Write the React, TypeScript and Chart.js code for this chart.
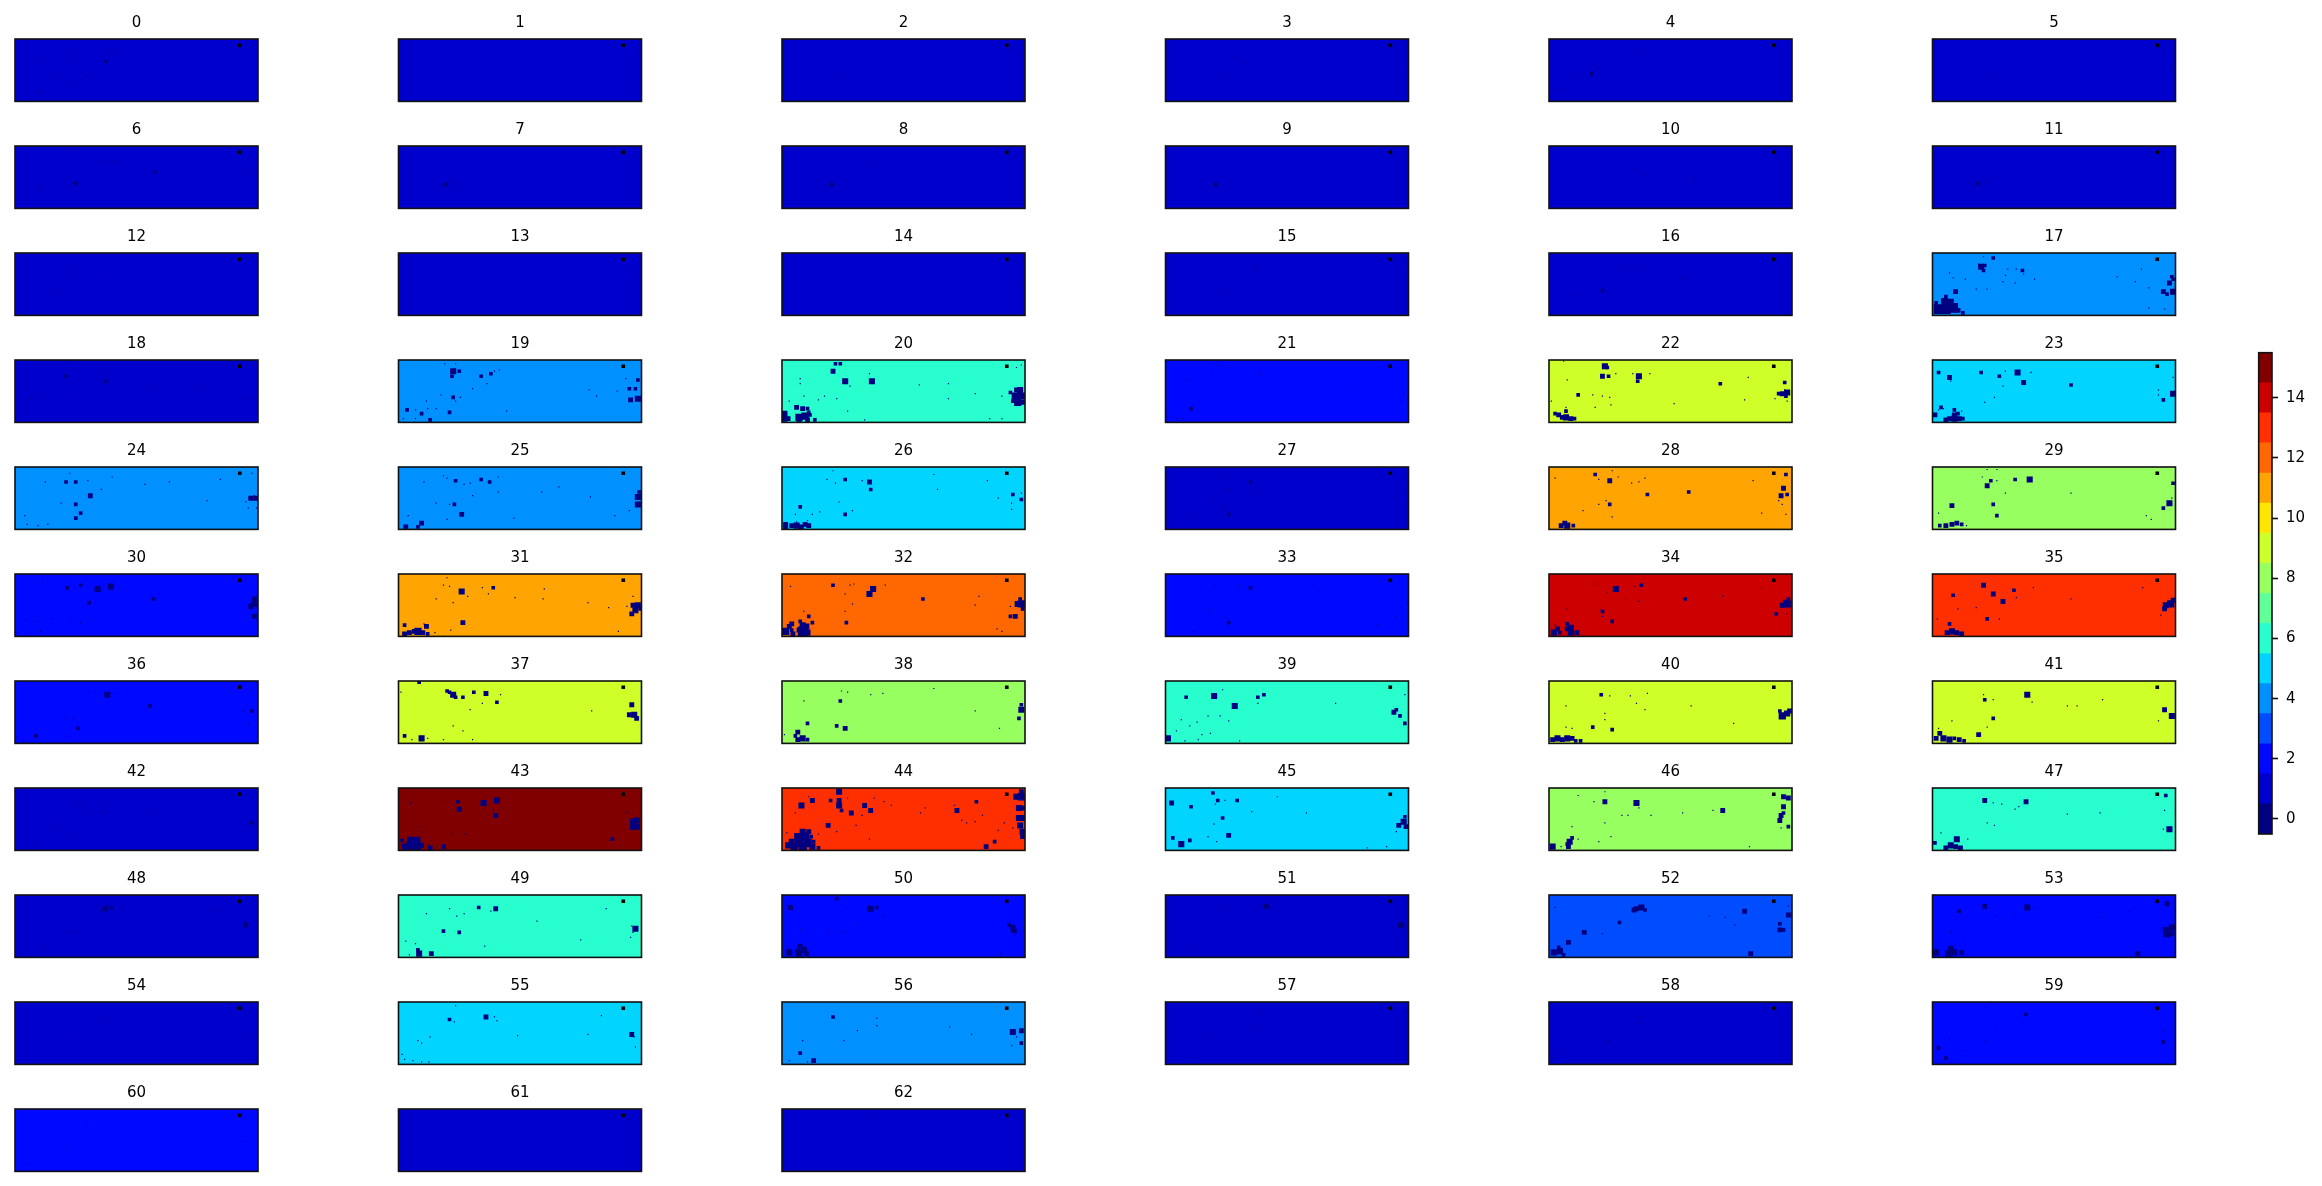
import React, { useEffect, useRef } from "react";
import { Chart, registerables } from "chart.js";

Chart.register(...registerables);

const FONT = "'DejaVu Sans'";
const levelColors = ["#000080","#0000cd","#0008ff","#004cff","#0090ff","#00d4ff","#29ffce","#60ff97","#97ff60","#ceff29","#ffe600","#ffa400","#ff6800","#ff2f00","#cd0000","#800000"];
const colorbarTicks = [0,2,4,6,8,10,12,14];
const panelLevels = [1,1,1,1,1,1,1,1,1,1,1,1,1,1,1,1,1,4,1,4,6,2,9,5,4,4,5,1,11,8,2,11,12,2,14,13,2,9,8,6,9,9,1,15,13,5,8,6,1,6,2,1,3,2,1,5,4,1,1,2,2,1,1];
const marker = [[185,5,2]];
const hot23 = [[18,48],[20,48],[22,48]];

type P = number[];
const holes0: P[] = [[24,16],[44,12],[49,18],[75,12],[80,11],[75,18,2],[33,31],[43,33],[59,29],[21,43],[40,39],[160,30],[104,36],[12,37],[3,46],[86,11]];
const holes1: P[] = [[190,6],[197,12],[60,20]];
const holes2: P[] = [[39,28],[45,29],[197,30],[190,8]];
const holes3: P[] = [[44,28],[58,14],[192,24]];
const holes4: P[] = [[35,28,2],[41,24],[27,30],[78,13],[53,14],[11,40],[190,8]];
const holes5: P[] = [[197,22],[45,30],[190,8]];
const holes6: P[] = [[50,30,2],[47,30],[115,21,2],[80,12],[69,12],[21,35],[45,5],[35,32],[160,13],[186,21]];
const holes7: P[] = [[39,31,2],[75,12],[44,29],[190,8]];
const holes8: P[] = [[41,31,2],[75,16],[35,32],[190,8]];
const holes9: P[] = [[41,31,2],[44,29],[190,8]];
const holes10: P[] = [[70,18],[190,10],[120,26]];
const holes11: P[] = [[37,30,2],[43,29],[190,8]];
const holes12: P[] = [[42,17],[73,17],[36,31],[30,20],[50,13],[190,8]];
const holes13: P[] = [[190,6],[194,20]];
const holes14: P[] = [[39,30],[44,29],[190,8],[196,24]];
const holes15: P[] = [[75,13],[196,12],[45,30]];
const holes16: P[] = [[40,10],[55,13],[70,12],[20,34],[44,30,2],[110,21],[170,26],[188,8]];
const holes17: P[] = [[5,45,7],[11,45,7],[17,44,7],[21,46,3],[10,39,5],[15,39,4],[11,35,2],[3,40,2],[25,48,2],[40,11,4],[43,10,2],[38,9],[42,14,2],[50,4,2],[42,3],[69,13],[74,14,2],[60,18],[58,23],[68,24],[45,29],[36,29],[19,31,3],[195,24,3],[198,21,2],[190,31,3],[193,33,2],[198,31,4],[197,19,2],[178,28],[178,44],[191,45],[17,20],[14,16],[27,21],[152,19],[167,23],[172,13],[75,17],[62,13],[84,21]];
const holes18: P[] = [[42,13,2],[68,11],[75,17,2],[79,11],[112,21],[50,31],[157,25],[23,29],[44,3],[71,15],[194,31],[13,31]];
const holes19: P[] = [[45,9,4],[44,13,2],[50,9,2],[38,3],[47,3],[68,13,2],[76,11,2],[79,9],[83,8],[73,19],[61,23],[35,28],[45,30,2],[51,30],[47,33],[23,33],[7,40,2],[19,43,2],[14,40],[24,39],[31,39],[42,42,2],[14,47],[26,48,2],[4,47],[89,41],[157,24],[163,29],[180,25],[190,23,2],[195,23,2],[197,16,2],[191,32,3],[197,31,4],[187,15]];
const holes20: P[] = [[2,43,4],[2,47,4],[5,47,3],[14,46,5],[19,45,5],[23,44,2],[14,48,3],[21,48,3],[27,48,2],[12,38,3],[17,39,3],[21,39,2],[22,42,2],[193,24,3],[196,24,4],[192,29,5],[197,29,5],[194,34,5],[198,34,3],[190,33,2],[188,26,2],[52,17,4],[74,17,4],[42,9,3],[44,3,2],[48,3,2],[56,21],[15,15],[15,19],[72,11],[113,20],[159,27],[6,33],[35,29],[45,31],[30,32],[18,29],[54,41],[137,31],[137,19],[181,29],[181,47],[193,6],[197,4],[171,47],[68,48]];
const holes21: P[] = [[21,39,2],[38,11],[51,8],[78,11],[18,16],[194,33],[196,27],[155,24],[9,47],[14,47],[42,4],[2,45]];
const holes22: P[] = [[14,46,4],[18,47,3],[11,46,3],[14,41,2],[14,38],[8,44,3],[5,43,2],[21,47,2],[192,27,3],[196,26,4],[195,29,2],[189,27,2],[194,24],[46,5,4],[44,4],[48,6,2],[44,13,3],[49,13,2],[74,13,4],[73,17,2],[69,11],[83,11],[55,11],[194,18,2],[196,33],[186,31],[24,28,2],[36,28],[50,30],[44,29],[51,36],[38,38],[164,14],[141,19,2],[161,32],[103,35],[12,1],[2,33],[15,16]];
const holes23: P[] = [[18,44,3],[14,47,3],[18,47,4],[22,47,3],[25,47,2],[11,48,3],[18,40,2],[21,43,2],[24,41],[7,38,2],[5,40],[9,39],[2,44,3],[70,10,4],[75,18,3],[40,10,2],[55,13,2],[14,14,3],[15,17],[5,10,2],[114,20,2],[81,10],[60,9],[198,27,4],[190,32,2],[51,30],[43,34],[186,24],[186,28],[198,14],[58,21]];
const holes24: P[] = [[45,5],[42,12,2],[50,12,2],[60,11],[62,23,3],[50,30,2],[38,29],[54,37,2],[50,41,2],[25,12],[80,8],[71,18],[127,12],[107,14],[169,10],[158,27],[194,25,3],[198,25,3],[197,23],[190,28],[192,33],[199,33],[195,5],[8,39],[19,47],[27,46],[10,46]];
const holes25: P[] = [[47,11,2],[40,9],[37,7],[59,13],[68,10,2],[75,12,2],[54,14],[82,8],[82,20],[61,23],[42,30],[46,30,2],[31,29],[52,38,3],[6,48,3],[19,45,3],[16,48,2],[8,39],[40,42],[95,41],[118,20],[132,16],[158,24],[197,24,4],[197,30,4],[198,20,2],[190,35],[178,39],[21,12]];
const holes26: P[] = [[3,46,3],[3,48,3],[8,47,3],[12,47,4],[16,48,3],[19,46,3],[22,47,3],[21,43],[12,44],[72,12,3],[66,11],[44,13],[52,10,2],[37,10],[42,3],[73,18,2],[52,38,2],[58,35],[47,28],[15,32,2],[11,38],[190,22,2],[197,26,2],[189,29],[197,21],[189,34],[178,25],[128,18],[169,11],[125,6],[25,38],[31,36]];
const holes27: P[] = [[70,12,2],[44,5],[52,18],[52,38,2],[21,42],[38,28],[47,32],[196,14],[189,25],[194,29],[8,46],[75,17]];
const holes28: P[] = [[13,45,3],[10,47,3],[15,47,4],[20,47,2],[50,11,3],[38,6,2],[41,10],[57,8],[52,3],[68,13],[74,12],[79,9],[81,22,2],[115,20,2],[50,30,2],[41,30],[47,27],[52,40],[193,17,3],[191,23,3],[196,22,2],[192,30],[189,27],[195,38],[195,6,2],[5,9],[168,11],[175,37],[28,35]];
const holes29: P[] = [[6,47,2],[11,47,3],[16,46,3],[20,45,3],[24,46,2],[80,10,4],[68,10,2],[45,15,3],[48,11,2],[53,11],[41,8],[50,30,2],[16,31,3],[53,39,2],[28,47],[195,29,4],[190,33,2],[197,25],[198,13,2],[176,39],[180,42],[114,21],[60,21],[5,37],[45,2],[53,2]];
const holes30: P[] = [[43,11,2],[54,9,2],[68,12,4],[79,10,4],[61,23,2],[197,20,3],[197,24,4],[194,25,2],[194,26,3],[197,34,3],[9,37],[16,38],[30,36],[40,42],[21,46],[54,39],[114,20,2],[45,35],[2,47],[23,7],[40,6]];
const holes31: P[] = [[9,47,3],[13,46,3],[16,46,5],[20,47,3],[24,48,2],[23,42,3],[21,40],[5,48,3],[193,25,3],[197,25,4],[195,29,4],[199,28,2],[52,14,4],[57,18],[42,10],[37,9],[40,3],[69,11],[78,11,2],[74,16],[120,12],[119,20],[156,23],[192,32,3],[193,18],[188,26],[173,27],[5,41,2],[53,39,3],[43,45],[181,46],[30,47],[96,19],[45,23],[31,20]];
const holes32: P[] = [[3,46,5],[8,45,2],[9,48,3],[8,40,3],[6,42,3],[17,41,4],[14,45,3],[20,42,4],[17,46,7],[21,47,4],[15,38,2],[194,24,4],[197,24,5],[196,20,2],[198,28,2],[75,12,4],[72,16,4],[42,9,2],[56,9],[59,8],[52,16],[58,24],[116,20,2],[188,26],[192,34,3],[188,34,2],[159,25],[162,18],[22,34,2],[18,30],[25,39,2],[53,39,2],[52,30],[85,9],[7,10],[181,46],[177,44]];
const holes33: P[] = [[52,39,2],[41,10],[60,10],[70,11,2],[37,29],[23,46],[175,41],[194,27],[190,34],[49,35],[127,14]];
const holes34: P[] = [[4,47,4],[7,44,3],[9,47,2],[5,41],[15,44,3],[18,43,4],[18,47,4],[23,47,3],[15,40,2],[194,22,2],[196,24,5],[192,25,3],[197,20,2],[55,12,4],[44,30,2],[44,34],[52,38,2],[187,32,2],[196,32],[112,20,2],[76,9,2],[71,10],[48,15],[74,22],[63,20],[175,11],[143,18],[38,8],[15,28]];
const holes35: P[] = [[12,47,3],[16,46,4],[20,47,3],[24,48,3],[192,25,4],[196,24,5],[191,28,3],[198,21,3],[42,9,3],[50,16,3],[58,22,3],[67,13,2],[69,19],[83,11],[17,17,2],[114,20],[14,40,2],[45,36,2],[21,28],[4,36],[55,36],[36,27],[188,33],[173,11]];
const holes36: P[] = [[76,11,4],[81,10],[61,9],[111,20,2],[52,38,2],[42,30],[48,30],[195,24,2],[188,24],[192,35],[17,44,2],[2,45],[7,48],[9,38],[43,44],[195,12]];
const holes37: P[] = [[45,11,4],[42,9,2],[47,13,2],[40,8,2],[53,13,2],[62,9,2],[72,10,3],[84,11],[81,17,2],[69,18],[59,23],[190,27,3],[194,27,4],[196,30,3],[192,19,3],[45,36],[53,40],[19,46,4],[5,44,2],[11,47],[17,1,2],[2,9],[37,47],[24,46],[61,47],[159,24]];
const holes38: P[] = [[13,41,3],[11,44,2],[13,47,3],[17,46,4],[21,47,2],[52,38,3],[45,36,2],[21,34,2],[197,23,4],[197,19,2],[195,30,2],[48,16,2],[49,8],[54,9],[73,11],[18,16],[2,43],[179,38],[159,24],[125,6],[83,10]];
const holes39: P[] = [[40,12,4],[57,20,4],[76,13,2],[81,11,2],[76,18],[17,13,2],[2,46,4],[9,40],[16,48],[27,47],[188,25,3],[190,23,2],[193,28,2],[197,34,2],[13,31],[35,28],[47,7],[140,18],[37,42],[61,48],[197,11],[20,36],[26,33],[45,28],[52,32],[30,43]];
const holes40: P[] = [[3,47,3],[7,46,4],[11,47,3],[15,46,4],[19,46,3],[22,48,2],[26,48,2],[192,28,5],[196,26,4],[190,24,2],[198,24,3],[52,39,2],[36,37,2],[19,38],[14,37],[43,11,2],[50,12],[67,12],[81,10],[79,23],[72,18],[46,26],[46,31],[14,20],[117,20],[152,34]];
const holes41: P[] = [[3,46,3],[6,42,3],[5,38],[9,46,4],[14,47,4],[18,46,2],[22,47,3],[26,48,2],[38,43,3],[45,37],[78,11,4],[42,11],[43,15,2],[50,15],[50,30,2],[197,28,4],[191,23,3],[186,32],[82,17],[111,20],[119,20],[16,32],[140,15]];
const holes42: P[] = [[195,28,2],[45,4],[46,39],[72,19],[74,11],[36,29],[30,40],[16,46],[112,21],[52,12],[57,16]];
const holes43: P[] = [[10,42,5],[15,42,5],[10,46,6],[15,46,6],[5,47,4],[3,42,2],[19,46,3],[26,48,3],[24,45],[37,47,3],[32,47],[193,27,4],[196,26,4],[193,31,4],[196,31,4],[70,12,4],[81,10,4],[49,11,2],[50,17,3],[80,22,3],[78,18],[188,20],[45,36],[37,10],[10,12],[54,37],[176,41,2],[16,31]];
const holes44: P[] = [[17,35,4],[22,35,3],[13,39,5],[19,39,6],[24,39,2],[8,43,4],[14,44,6],[21,44,6],[5,46,4],[10,47,5],[17,47,6],[25,47,4],[30,48,2],[26,43,2],[4,36],[197,3,3],[193,7,4],[197,7,5],[195,16,4],[198,16,3],[195,24,4],[198,24,4],[196,30,4],[198,35,4],[198,39,3],[47,10,3],[47,14,4],[49,18,2],[47,3,4],[16,14,4],[25,10,3],[57,20,3],[68,14,3],[73,18,3],[38,30,3],[45,35],[144,18,3],[142,14],[160,11,2],[178,34],[190,32],[168,47,3],[175,43,2],[159,27],[76,8],[84,11],[40,10,2],[72,41],[11,20],[114,20],[152,28],[183,28],[61,30],[30,37],[22,7],[54,8],[66,22],[90,14],[118,16],[148,26],[165,22]];
const holes45: P[] = [[52,38,3],[21,15,2],[5,12,3],[39,4,2],[43,10,2],[41,13],[49,10],[59,10,2],[47,24,2],[40,29],[13,45,4],[20,42,2],[6,40,2],[35,39],[42,43],[192,30,3],[196,27,4],[198,31,3],[197,23,2],[71,19],[116,20],[190,35],[92,7],[166,48],[182,47]];
const holes46: P[] = [[17,43,4],[16,47,3],[19,40,2],[15,45,2],[3,47,4],[72,12,4],[46,11,3],[193,15,3],[191,22,3],[193,20,2],[190,26,3],[193,7,3],[197,8,3],[197,31,2],[143,18,3],[135,18],[60,22],[65,22],[110,20],[24,41],[24,6],[74,16],[191,32],[165,47],[46,3],[51,39],[41,43],[46,28],[19,31],[10,47],[37,11],[84,22]];
const holes47: P[] = [[11,48,3],[15,46,4],[19,47,3],[23,48,3],[20,41,4],[2,44,2],[43,10,3],[57,13],[77,11,3],[71,15],[195,33,4],[190,33],[191,18],[51,30],[45,28],[192,6,2],[111,21],[138,20],[7,36],[29,41],[68,17],[50,12]];
const holes48: P[] = [[74,11,3],[79,10,2],[71,13],[190,24,3],[49,30],[40,9],[147,16],[164,13],[23,45],[4,47]];
const holes49: P[] = [[16,44,2],[17,47,4],[27,47,3],[9,48],[195,27,4],[192,25],[193,30],[37,29,2],[50,30,2],[66,10,2],[80,11,3],[42,11],[48,17],[54,15],[76,13],[23,15],[14,39],[6,37],[150,36],[71,41],[171,11],[191,34],[114,21]];
const holes50: P[] = [[15,41,3],[13,45,3],[18,44,4],[14,47,4],[20,47,3],[6,46,4],[73,11,4],[78,10,2],[45,3,2],[7,10,3],[190,26,3],[187,24,2],[192,29,2],[190,29,2],[83,17],[50,30],[38,29],[15,28],[61,23],[54,11],[180,47],[24,39],[192,32]];
const holes51: P[] = [[83,9,3],[78,8],[194,24,4],[195,29],[21,45],[183,5],[56,9],[44,12],[94,15]];
const holes52: P[] = [[72,11,3],[76,10,4],[79,12,2],[70,12,3],[4,46,4],[9,45,4],[8,42,2],[12,48,2],[29,30,3],[16,38,3],[190,28,3],[193,28,2],[190,23,2],[197,16,3],[161,13,3],[166,47,3],[58,22,2],[145,18],[132,17],[44,31],[5,10],[153,24],[197,9]];
const holes53: P[] = [[78,10,4],[192,28,4],[197,26,4],[193,31,5],[197,31,3],[15,43,4],[13,47,4],[18,46,4],[3,46,4],[24,46,3],[169,47,3],[43,9,3],[22,13,2],[193,7,3],[67,14],[52,17],[162,13],[86,10],[15,30],[7,38],[26,33],[140,18]];
const holes54: P[] = [[70,12],[45,30],[190,8],[196,26]];
const holes55: P[] = [[42,14,2],[46,16],[72,12,3],[79,12],[81,15],[47,3],[192,26,3],[194,28],[195,36],[16,31],[19,33],[26,28],[5,46],[12,47],[19,48],[25,48],[3,42],[167,11],[156,26],[98,27]];
const holes56: P[] = [[190,24,4],[197,23,3],[197,33,2],[189,35],[26,47,3],[15,41,2],[6,47],[21,48],[42,12,2],[62,23],[78,13],[78,19],[138,20],[17,31],[51,31],[156,26],[193,28]];
const holes57: P[] = [[73,18],[78,10],[40,29],[26,45],[10,39],[191,24]];
const holes58: P[] = [[74,17],[73,12],[48,9],[49,31],[193,24],[193,33],[15,41],[3,45]];
const holes59: P[] = [[77,10,2],[75,17],[52,20],[44,31],[190,32,2],[191,23],[5,37,2],[25,39],[11,45,2],[16,48],[14,30],[44,4]];
const holes60: P[] = [[60,14],[42,30],[190,26],[12,44]];
const holes61: P[] = [[190,8],[50,30]];
const holes62: P[] = [[70,6],[44,30],[194,20]];

const allHoles = [holes0,holes1,holes2,holes3,holes4,holes5,holes6,holes7,holes8,holes9,holes10,holes11,holes12,holes13,holes14,holes15,holes16,holes17,holes18,holes19,holes20,holes21,holes22,holes23,holes24,holes25,holes26,holes27,holes28,holes29,holes30,holes31,holes32,holes33,holes34,holes35,holes36,holes37,holes38,holes39,holes40,holes41,holes42,holes43,holes44,holes45,holes46,holes47,holes48,holes49,holes50,holes51,holes52,holes53,holes54,holes55,holes56,holes57,holes58,holes59,holes60,holes61,holes62];

const toPoints = (rows: P[]) => rows.map((r) => ({ x: r[0], y: r[1], s: r[2] ?? 1 }));
// Blobs are read as squares of several cells; they are drawn one cell wider so that neighbouring squares merge.
const cellRadius = (ctx: any) => {
  const s = ctx.raw.s > 1 ? ctx.raw.s + 1 : ctx.raw.s;
  return (s * ctx.chart.scales.x.width) / 200 / Math.SQRT2;
};

const framePlugin = {
  id: "frame",
  afterDraw(chart: any) {
    const { ctx, chartArea: a } = chart;
    ctx.save();
    ctx.strokeStyle = "#111";
    ctx.lineWidth = 1.6;
    ctx.strokeRect(a.left, a.top, a.width, a.height);
    ctx.restore();
  },
};
const fillPlugin = {
  id: "fill",
  beforeDatasetsDraw(chart: any, _a: any, opts: any) {
    const { ctx, chartArea: a } = chart;
    ctx.fillStyle = opts.color;
    ctx.fillRect(a.left, a.top, a.width, a.height);
  },
};

const X0 = 15, Y0 = 39, DX = 383.5, DY = 107, W = 243, H = 62.4;
const TITLE_BOX = 25;

function Panel({ index }: { index: number }) {
  const ref = useRef<HTMLCanvasElement>(null);
  const col = index % 6, row = Math.floor(index / 6);
  const px = X0 + col * DX, py = Y0 + row * DY;
  const left = Math.floor(px) - 10, top = Math.floor(py) - 30;
  const cw = W + 21, ch = 100;
  const padLeft = px - left, padRight = cw - padLeft - W;
  const padTop = py - top - TITLE_BOX, padBottom = ch - (py - top) - H;
  useEffect(() => {
    const dataset = (data: any[], color: string, clip: any) => ({
      data, backgroundColor: color, borderWidth: 0,
      pointStyle: "rect", pointRadius: cellRadius, pointBorderWidth: 0, clip,
    });
    const sets = [dataset(toPoints(allHoles[index]), levelColors[0], 0)];
    if (index === 23) sets.push(dataset(toPoints(hot23), levelColors[13], 0));
    sets.push(dataset(toPoints(marker), "#000000", 0));
    const chart = new Chart(ref.current!, {
      type: "scatter",
      data: { datasets: sets as any },
      plugins: [fillPlugin, framePlugin],
      options: {
        animation: false, responsive: false, devicePixelRatio: 1, events: [],
        layout: { padding: { left: padLeft, right: padRight, top: padTop, bottom: padBottom } },
        scales: {
          x: { type: "linear", min: 0, max: 200, display: false },
          y: { type: "linear", min: 0, max: 50, reverse: true, display: false },
        },
        plugins: {
          legend: { display: false }, tooltip: { enabled: false },
          fill: { color: levelColors[panelLevels[index]] },
          title: {
            display: true, text: String(index), color: "#000",
            font: { family: FONT, size: 15, weight: "normal" },
            padding: { top: 0, bottom: 7 },
          },
        } as any,
      },
    });
    return () => chart.destroy();
  }, []);
  return <canvas ref={ref} width={cw} height={ch} style={{ position: "absolute", left, top, width: cw, height: ch }} />;
}

function Colorbar() {
  const ref = useRef<HTMLCanvasElement>(null);
  useEffect(() => {
    const chart = new Chart(ref.current!, {
      type: "bar",
      data: {
        labels: ["level"],
        datasets: levelColors.map((c, i) => ({
          data: [[i - 0.5, i + 0.5]] as any,
          backgroundColor: c, borderWidth: 0, barPercentage: 1, categoryPercentage: 1, grouped: false,
        })),
      },
      plugins: [framePlugin],
      options: {
        animation: false, responsive: false, devicePixelRatio: 1, events: [],
        layout: { padding: { left: 18.7, right: 10, top: 12.7, bottom: 16 } },
        scales: {
          x: { display: false },
          y: {
            type: "linear", position: "right", min: -0.5, max: 15.5,
            afterBuildTicks: (axis: any) => { axis.ticks = colorbarTicks.map((value) => ({ value })); },
            afterFit: (axis: any) => { axis.width = 40; axis.paddingTop = 0; axis.paddingBottom = 0; },
            grid: { drawOnChartArea: false, drawTicks: true, tickLength: 6, tickColor: "#111", tickWidth: 1.6 },
            border: { display: false },
            ticks: { color: "#000", padding: 8, font: { family: FONT, size: 15 } },
          },
        },
        plugins: { legend: { display: false }, tooltip: { enabled: false } },
      },
    });
    return () => chart.destroy();
  }, []);
  return <canvas ref={ref} width={82} height={510} style={{ position: "absolute", left: 2240, top: 340, width: 82, height: 510 }} />;
}

export default function App() {
  return (
    <div style={{ position: "absolute", left: 0, top: 0, width: 2322, height: 1186, overflow: "hidden", background: "#fff" }}>
      {panelLevels.map((_, i) => <Panel key={i} index={i} />)}
      <Colorbar />
    </div>
  );
}
